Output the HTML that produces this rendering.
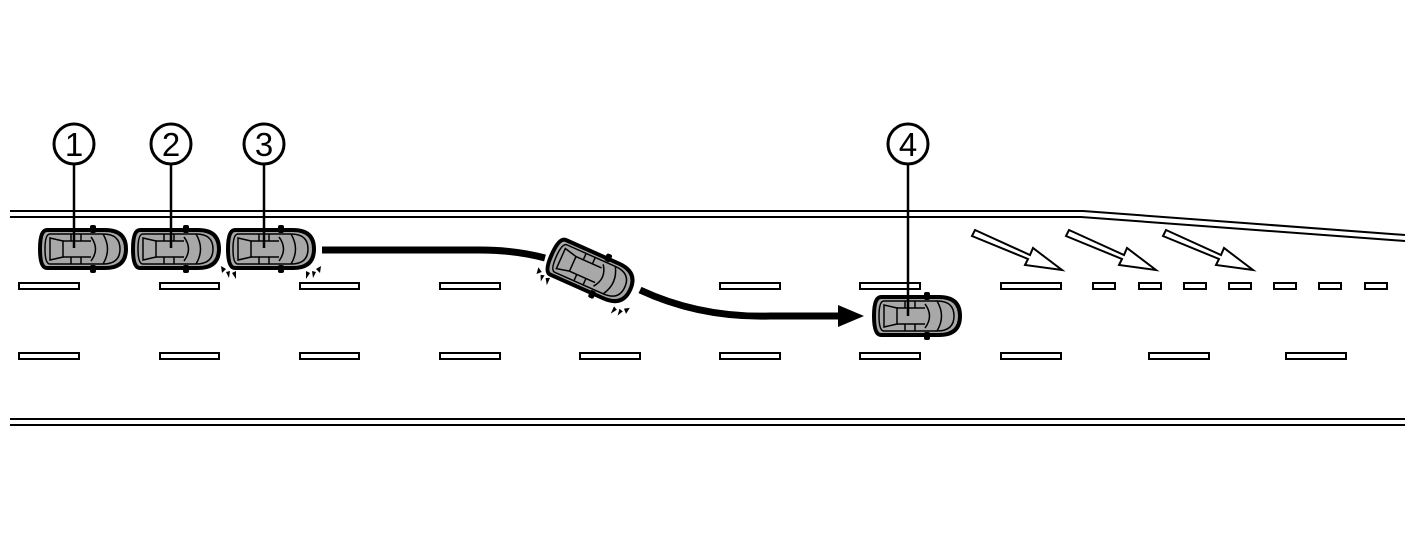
<!DOCTYPE html>
<html><head><meta charset="utf-8"><style>html,body{margin:0;padding:0;background:#fff}svg{display:block}</style></head><body>
<svg width="1418" height="556" viewBox="0 0 1418 556" xmlns="http://www.w3.org/2000/svg">
<defs>
<g id="car">
<path d="M-36,-19 H22 Q43,-19 43,0 Q43,19 22,19 H-36 Q-43,19 -43,0 Q-43,-19 -36,-19Z" fill="#a8a8a8" stroke="#000" stroke-width="4"/>
<path d="M-33,-15 H20 Q37,-15 37,0 Q37,15 20,15 H-33 Q-38,15 -38,0 Q-38,-15 -33,-15Z" fill="none" stroke="#000" stroke-width="1.5"/>
<path d="M-33,-11 L-20,-8 V8 L-33,11 Z" fill="none" stroke="#000" stroke-width="1.5"/>
<path d="M8,-12 Q17,0 8,12 M20,-15 Q29,0 20,15" fill="none" stroke="#000" stroke-width="1.5"/>
<path d="M-20,-8 H8 M-20,8 H8 M-12,-15 V-8 M-12,8 V15 M-2,-15 V-8 M-2,8 V15" stroke="#000" stroke-width="1.5"/>
<rect x="7" y="-24" width="6" height="8" rx="2" fill="#000"/>
<rect x="7" y="16" width="6" height="8" rx="2" fill="#000"/>
</g>
<g id="blinkL" fill="#000"><polygon points="-50,17 -45,20 -49,24"/><polygon points="-45,23 -41,22 -42,29"/><polygon points="-39,24 -35,22 -35,30"/></g>
<g id="blinkR" fill="#000"><polygon points="50,17 45,20 49,24"/><polygon points="45,23 41,22 42,29"/><polygon points="39,24 35,22 35,30"/></g>
</defs>
<g fill="none" stroke="#000" stroke-width="2">
<path d="M10,211 H1083 L1405,235"/>
<path d="M10,217 H1081 L1405,241"/>
<path d="M10,419 H1405 M10,425 H1405"/>
</g>
<g fill="#fff" stroke="#000" stroke-width="2">
<rect x="19" y="283" width="60" height="6"/><rect x="160" y="283" width="59" height="6"/><rect x="300" y="283" width="59" height="6"/><rect x="440" y="283" width="60" height="6"/><rect x="720" y="283" width="60" height="6"/><rect x="860" y="283" width="60" height="6"/><rect x="1001" y="283" width="60" height="6"/>
<rect x="1093" y="283" width="22" height="6"/><rect x="1139" y="283" width="22" height="6"/><rect x="1184" y="283" width="22" height="6"/><rect x="1229" y="283" width="22" height="6"/><rect x="1274" y="283" width="22" height="6"/><rect x="1319" y="283" width="22" height="6"/><rect x="1365" y="283" width="22" height="6"/>
<rect x="19" y="353" width="60" height="6"/><rect x="160" y="353" width="59" height="6"/><rect x="300" y="353" width="59" height="6"/><rect x="440" y="353" width="60" height="6"/><rect x="580" y="353" width="60" height="6"/><rect x="720" y="353" width="60" height="6"/><rect x="860" y="353" width="60" height="6"/><rect x="1001" y="353" width="60" height="6"/><rect x="1149" y="353" width="60" height="6"/><rect x="1286" y="353" width="60" height="6"/>
</g>
<g fill="#fff" stroke="#000" stroke-width="2">
<polygon points="975,230 1030,255 1033,248 1062,270 1025,265 1028,259 972,236"/>
<polygon points="1069,230 1124,255 1127,248 1156,270 1119,265 1122,259 1066,236"/>
<polygon points="1166,230 1221,255 1224,248 1253,270 1216,265 1219,259 1163,236"/>
</g>
<path d="M322,250 H480 Q515,250 545,258" fill="none" stroke="#000" stroke-width="7"/>
<path d="M640,290 Q700,318 770,316 H840" fill="none" stroke="#000" stroke-width="7"/>
<polygon points="838,305 864,316 838,327" fill="#000"/>
<use href="#car" x="83" y="249"/>
<use href="#car" x="176" y="249"/>
<use href="#car" x="271" y="249"/>
<use href="#blinkL" x="271" y="249"/><use href="#blinkR" x="271" y="249"/>
<g transform="translate(591,272) rotate(24)"><use href="#car"/><use href="#blinkL"/><use href="#blinkR"/></g>
<use href="#car" x="917" y="316"/>
<g stroke="#000" stroke-width="2.5" fill="#fff">
<line x1="74" y1="164" x2="74" y2="248"/><line x1="171" y1="164" x2="171" y2="248"/><line x1="264" y1="164" x2="264" y2="248"/><line x1="908" y1="164" x2="908" y2="316"/>
<circle cx="74" cy="144" r="20" stroke-width="3"/><circle cx="171" cy="144" r="20" stroke-width="3"/><circle cx="264" cy="144" r="20" stroke-width="3"/><circle cx="908" cy="144" r="20" stroke-width="3"/>
</g>
<g font-family="Liberation Sans, sans-serif" font-size="33" text-anchor="middle" fill="#000">
<text x="74" y="156">1</text><text x="171" y="156">2</text><text x="264" y="156">3</text><text x="908" y="156">4</text>
</g>
</svg>
</body></html>
